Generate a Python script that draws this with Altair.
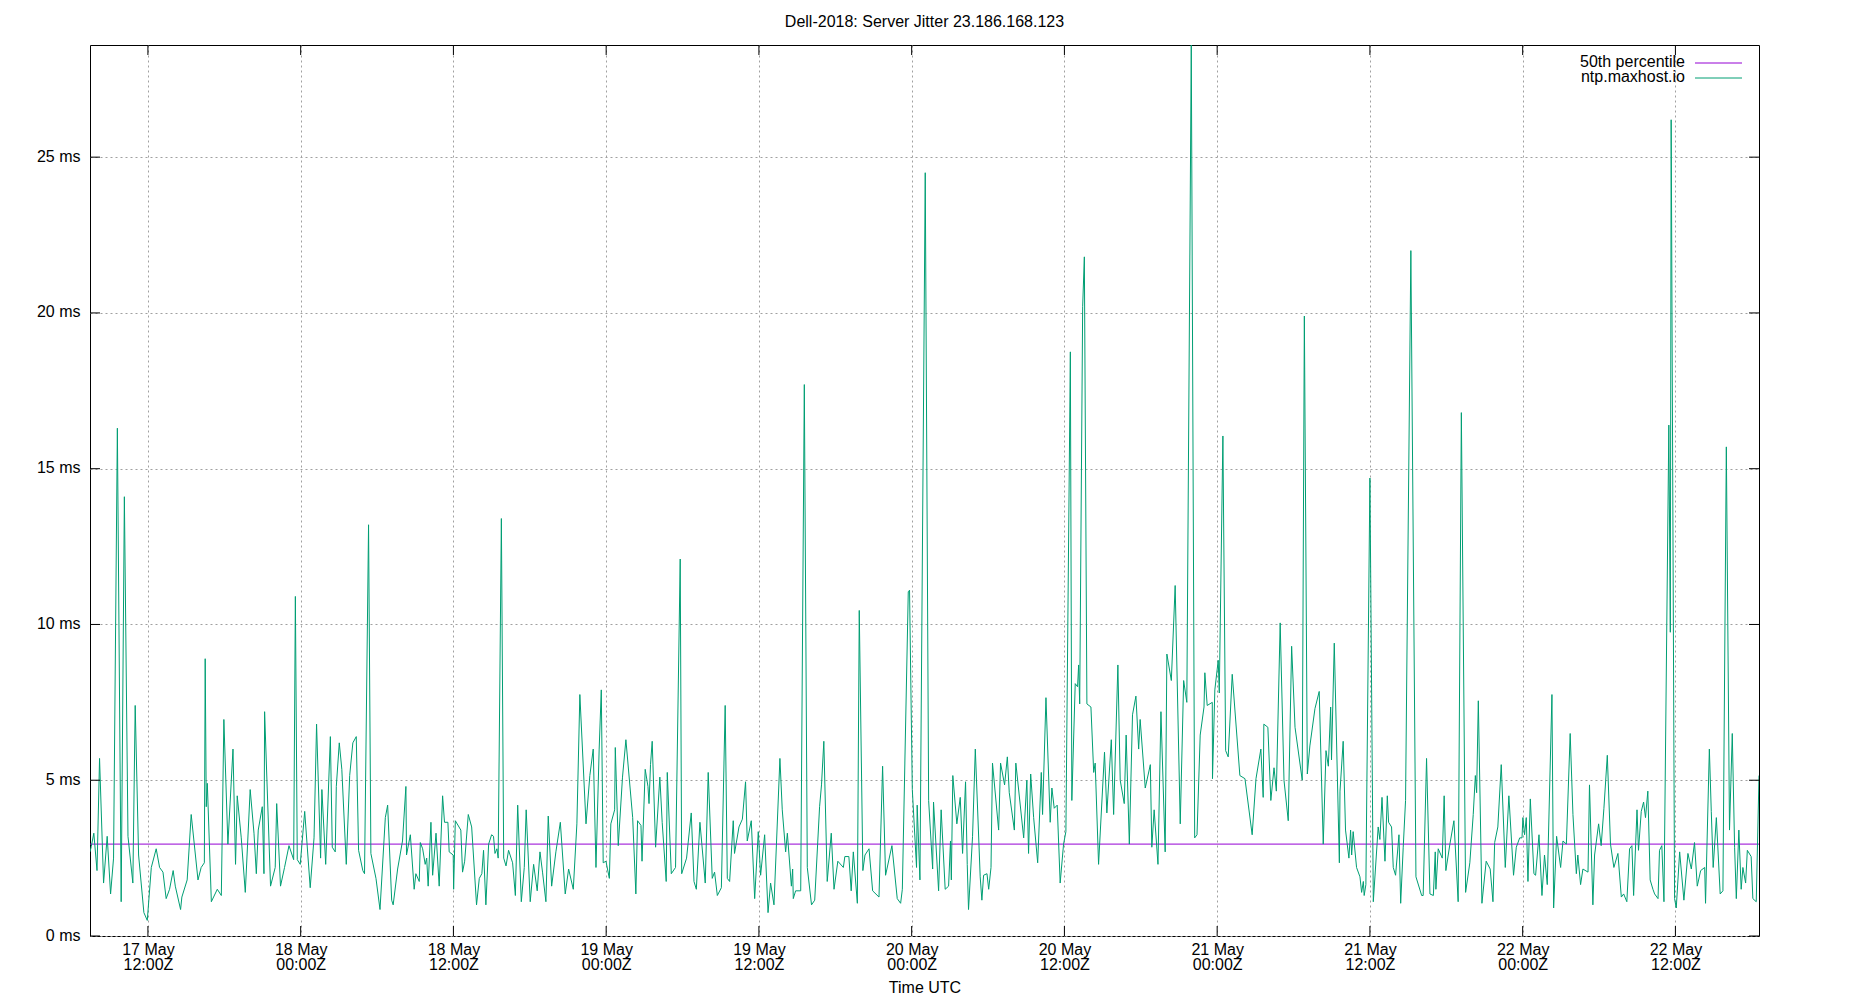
import altair as alt
import pandas as pd

FONT = "Liberation Sans"
FS = 16

title_text = "Dell-2018: Server Jitter 23.186.168.123"
x_title = "Time UTC"
series_names = ["50th percentile", "ntp.maxhost.io"]
series_colors = ["#9400d3", "#009e73"]

base_time = "2024-05-17T00:00:00Z"

# minutes after base_time
minutes = [
    447, 453, 465, 480, 492, 511, 528, 544, 558, 576, 594, 609, 626, 649, 660, 676,
    701, 717, 736, 759, 775, 791, 806, 822, 839, 849, 874, 880, 905, 924, 956, 971,
    986, 990, 995, 1000, 1019, 1047, 1066, 1078, 1097, 1121, 1133, 1141, 1160, 1179,
    1202, 1220, 1231, 1240, 1259, 1267, 1270, 1298, 1320, 1327, 1345, 1364, 1385,
    1407, 1415, 1424, 1438, 1459, 1485, 1503, 1515, 1534, 1540, 1558, 1580, 1589,
    1603, 1608, 1622, 1634, 1655, 1671, 1686, 1702, 1713, 1733, 1741, 1760,
    1771, 1795, 1814, 1839, 1850, 1869, 1876, 1897, 1920, 1936, 1939, 1957, 1975,
    1983, 1999, 2004, 2015, 2027, 2034, 2041, 2054, 2062, 2078, 2093, 2109, 2118,
    2134, 2140, 2159, 2161, 2169, 2195, 2203, 2213, 2230, 2246, 2269, 2282, 2294,
    2302, 2313, 2326, 2340, 2349, 2356, 2365, 2371, 2386, 2397, 2408, 2420, 2439,
    2452, 2463, 2480, 2494, 2503, 2522, 2538, 2555, 2568, 2580, 2596, 2607, 2623,
    2643, 2664, 2687, 2703, 2725, 2742, 2756, 2785, 2803, 2819, 2832, 2847, 2857,
    2866, 2879, 2895, 2902, 2920, 2923, 2937, 2957, 2973, 3005, 3020, 3028, 3044,
    3049, 3064, 3077,
    3082, 3089, 3097, 3113, 3133, 3144, 3163, 3168, 3187, 3207, 3229, 3236, 3259,
    3281, 3294, 3305, 3322, 3347, 3361, 3380, 3391, 3404, 3423, 3441, 3451, 3462,
    3479, 3485, 3506, 3522, 3537, 3545, 3564, 3580, 3597, 3608, 3627, 3643, 3655,
    3671, 3699, 3710, 3726, 3734, 3753, 3759, 3762, 3773, 3797, 3814, 3828, 3848,
    3863, 3886, 3895, 3906, 3922, 3941, 3954, 3972, 3998, 4005, 4024, 4035, 4045,
    4064, 4073, 4090, 4100, 4119, 4136, 4166, 4183, 4197, 4227, 4252, 4268, 4276,
    4304, 4310, 4323, 4343, 4346, 4359, 4384,
    4400, 4419, 4423, 4447, 4459, 4478, 4494, 4503, 4507, 4514, 4533, 4549, 4560,
    4574, 4582, 4588, 4607, 4620, 4643, 4651, 4659, 4675, 4683, 4694, 4701, 4730,
    4739, 4758, 4771, 4780, 4804, 4811, 4848, 4863, 4871, 4881, 4895, 4914, 4931,
    4937, 4953, 4973, 4981, 4992, 5006, 5020, 5036, 5047, 5068, 5075, 5091, 5102,
    5107, 5112, 5126, 5134, 5146, 5165, 5178, 5185, 5201, 5229, 5240, 5261, 5272,
    5292, 5303, 5322, 5331, 5346, 5361, 5377, 5390, 5397, 5421, 5445, 5452, 5463,
    5481, 5495, 5515, 5523, 5544, 5562, 5586, 5602, 5617, 5638, 5654, 5665, 5680,
    5698,
    5702, 5713, 5737, 5738, 5749, 5765, 5770, 5787, 5800, 5812, 5831, 5867, 5891,
    5925, 5943, 5966, 5977, 5980, 5999, 6013, 6028, 6039, 6057, 6075, 6095, 6111,
    6127, 6161, 6171, 6185, 6197, 6221, 6241, 6260, 6273, 6284, 6295, 6299, 6312,
    6336, 6339, 6354, 6365, 6381, 6389, 6394, 6401, 6417, 6433, 6441, 6449, 6453,
    6461, 6480, 6496, 6519, 6527, 6537, 6551, 6562, 6568, 6582, 6590, 6601, 6617,
    6625, 6637, 6648, 6673, 6697, 6724, 6731, 6747, 6763, 6779, 6788, 6791, 6802,
    6821, 6830, 6838, 6857, 6876, 6896, 6911, 6931, 6951, 6967, 6977, 6983, 6991,
    7008,
    7028, 7047, 7060, 7068, 7083, 7099, 7118, 7135, 7157, 7170, 7186, 7197, 7201,
    7209, 7217, 7225, 7236, 7253, 7261, 7277, 7291, 7303, 7316, 7338, 7346, 7360,
    7379, 7390, 7406, 7424, 7437, 7453, 7460, 7473, 7484, 7508, 7515, 7531, 7539,
    7558, 7570, 7583, 7599, 7614, 7630, 7649, 7665, 7676, 7691, 7704, 7715, 7723,
    7739, 7746, 7759, 7770, 7779, 7790, 7801, 7814, 7822, 7838, 7845, 7856, 7866,
    7889, 7896, 7900, 7916, 7924, 7940, 7960, 7979, 7995, 8010, 8023, 8039, 8058,
    8062, 8080, 8089, 8098, 8113, 8131, 8144, 8160, 8175, 8188, 8199, 8207, 8219,
    8230, 8238, 8251, 8259, 8277, 8285, 8301, 8314,
]

jitter_ms = [
    2.7, 2.87, 3.3, 2.1, 5.7, 1.7, 3.2, 1.35, 2.5, 16.3, 1.1, 14.1, 3.2, 1.7, 7.4, 2.6,
    0.75, 0.5, 2.2, 2.8, 2.2, 2.05, 1.2, 1.5, 2.1, 1.6, 0.85, 1.25, 1.8, 3.9, 1.8, 2.2,
    2.35, 8.9, 4.15, 4.9, 1.1, 1.5, 1.3, 6.95, 2.95, 6.0, 2.3, 4.5, 3.15, 1.4,
    4.7, 3.3, 2.0, 3.4, 4.15, 2.0, 7.2, 1.6, 2.2, 4.25, 1.6, 2.2, 2.9,
    2.45, 10.9, 2.45, 2.3, 4.0, 1.55, 3.15, 6.8, 2.5, 4.7, 2.3, 6.4, 2.85,
    2.7, 4.8, 6.2, 5.35, 2.3, 5.15, 6.2, 6.4, 2.75, 2.1, 2.0, 13.2,
    2.65, 1.85, 0.85, 3.8, 4.2, 1.15, 1.0, 2.15, 3.05, 4.8, 2.6, 3.25, 1.5,
    2.0, 1.75, 3.0, 2.8, 2.3, 2.5, 1.6, 3.65, 1.95, 3.3, 1.6, 4.5, 3.65,
    3.65, 2.7, 2.6, 1.5, 3.7, 3.4, 2.05, 2.4, 3.9, 3.5, 1.0, 1.85, 2.0,
    2.75, 1.0, 2.95, 3.25, 3.2, 2.65, 2.8, 2.5, 13.4, 2.5, 2.25, 2.75, 2.35,
    1.3, 4.2, 1.1, 2.2, 4.05, 1.1, 2.3, 1.45, 2.7, 2.05, 1.1, 3.85, 1.6,
    2.7, 3.65, 1.35, 2.15, 1.5, 3.6, 7.75, 3.6, 5.15, 6.0, 2.2, 6.0, 7.9,
    2.35, 2.4, 1.85, 3.6, 4.05, 6.05, 2.9, 5.1, 6.3, 3.8, 1.35, 3.7, 3.55,
    2.4, 5.35, 4.8,
    4.25, 5.5, 6.25, 2.85, 5.1, 3.65, 1.75, 5.25, 2.0, 2.2, 12.1, 2.0, 2.5,
    3.95, 1.75, 1.5, 3.65, 1.7, 5.25, 1.85, 2.05, 1.3, 1.55, 7.4, 1.85, 1.75,
    3.7, 2.65, 3.5, 3.75, 4.95, 3.05, 3.7, 1.2, 3.35, 1.95, 3.25, 0.75, 1.7,
    1.0, 5.7, 4.05, 2.7, 3.3, 1.6, 2.15, 1.2, 1.45, 1.45, 17.7, 2.2, 1.0,
    1.15, 4.15, 4.85, 6.25, 1.75, 3.3, 1.5, 2.4, 2.2, 2.55, 2.55, 1.45, 2.7,
    1.05, 10.45, 2.1, 2.6, 2.8, 1.45, 1.25, 5.45, 1.95, 2.9, 1.2, 1.05, 1.5,
    11.05, 11.1, 4.7, 2.2, 4.2, 1.8, 24.5,
    4.35, 2.15, 4.3, 1.45, 4.05, 1.5, 1.6, 3.05, 1.8, 5.15, 3.6, 4.45, 2.65,
    4.95, 2.3, 0.85, 3.2, 6.0, 1.9, 1.15, 1.95, 2.0, 1.5, 2.2, 5.55, 3.4,
    5.55, 4.85, 5.75, 4.6, 3.4, 5.55, 3.15, 5.0, 2.65, 5.2, 3.8, 2.35, 5.25,
    3.9, 7.65, 3.65, 4.75, 4.1, 4.2, 1.7, 2.95, 3.35, 18.75, 4.35, 8.1, 8.0,
    8.7, 7.45, 20.2, 21.8, 7.45, 7.35, 5.25, 5.55, 2.3, 5.9, 3.95, 6.3, 3.9,
    8.7, 5.0, 4.25, 6.45, 2.95, 7.1, 7.7, 6.0, 6.95, 4.75, 5.5, 2.85, 4.05,
    2.3, 7.2, 2.7, 9.05, 8.2, 11.25, 3.6, 8.2, 7.5, 28.6, 3.15, 3.25, 6.45,
    7.35,
    8.45, 7.4, 7.5, 5.05, 7.9, 8.85, 7.8, 16.05, 5.95, 5.75, 8.4, 5.15, 5.05,
    3.25, 5.05, 6.0, 4.45, 6.8, 6.7, 4.35, 5.4, 4.65, 10.05, 5.0, 3.7, 9.3,
    6.7, 5.0, 19.9, 5.2, 6.1, 7.3, 7.85, 2.95, 5.95, 5.45, 7.35, 5.65, 9.4,
    2.35, 4.65, 6.25, 3.4, 2.5, 3.4, 2.6, 3.35, 2.2, 1.9, 1.4, 1.75, 1.3,
    1.65, 14.7, 1.1, 3.5, 3.1, 4.45, 2.4, 4.5, 3.65, 3.5, 2.2, 1.95, 3.25,
    1.05, 2.85, 4.35, 22.0, 1.9, 1.3, 1.3, 5.7, 1.35, 1.3, 2.7, 1.5, 2.8,
    2.5, 4.5, 2.1, 2.95, 3.7, 1.1, 16.8, 1.4, 2.35, 3.9, 5.15, 4.6, 7.55,
    1.05,
    2.4, 2.15, 1.1, 3.0, 3.5, 5.5, 2.2, 4.5, 1.95, 2.85, 3.15, 3.15, 3.8,
    3.25, 3.8, 1.75, 4.4, 2.0, 1.95, 3.25, 1.3, 2.6, 1.65, 7.75, 0.9, 3.2,
    2.2, 3.05, 2.95, 6.5, 3.9, 2.0, 2.6, 1.65, 2.15, 2.05, 4.85, 1.0, 2.6,
    3.6, 2.9, 4.1, 5.8, 2.95, 2.2, 2.65, 1.25, 1.35, 1.1, 2.8, 2.9, 1.3,
    4.05, 2.75, 4.0, 4.3, 3.8, 4.65, 1.8, 1.5, 1.35, 1.2, 2.75, 2.9, 1.1,
    16.4, 9.75, 26.2, 1.2, 0.9, 2.7, 1.15, 2.65, 2.15, 3.0, 1.6, 2.1, 2.2,
    1.05, 6.0, 4.0, 2.2, 3.8, 1.35, 1.45, 15.7, 3.4, 6.5, 2.85, 1.2, 3.4,
    1.5, 2.2, 1.7, 2.75, 2.55, 1.2, 1.1, 5.15,
]

median_ms = [2.95]

tick_times = [
    "2024-05-17T12:00:00Z", "2024-05-18T00:00:00Z", "2024-05-18T12:00:00Z",
    "2024-05-19T00:00:00Z", "2024-05-19T12:00:00Z", "2024-05-20T00:00:00Z",
    "2024-05-20T12:00:00Z", "2024-05-21T00:00:00Z", "2024-05-21T12:00:00Z",
    "2024-05-22T00:00:00Z", "2024-05-22T12:00:00Z",
]
y_ticks = [0, 5, 10, 15, 20, 25]

# ---------------------------------------------------------------------------
base_ms = pd.Timestamp(base_time).value // 10**6
df = pd.DataFrame({
    "t": [base_ms + m * 60000 for m in minutes],
    "v": jitter_ms,
})
tick_ms = [pd.Timestamp(s).value // 10**6 for s in tick_times]
ticks_df = pd.DataFrame({"t": tick_ms})
yticks_df = pd.DataFrame({"v": y_ticks})
median_df = pd.DataFrame({"v": median_ms})

W, H = 1669, 891
TL = 10  # tick length
GRID = "#a0a0a0"

xscale = alt.Scale(type="utc", domain=[int(df["t"].min()), int(df["t"].max())])
yscale = alt.Scale(domain=[0, float(max(jitter_ms))], nice=False, zero=True)

x_axis = alt.Axis(
    values=tick_ms, grid=True, gridDash=[2, 3], gridColor=GRID, gridWidth=1,
    ticks=False, domain=False,
    labelExpr="[utcFormat(datum.value, '%d %b'), utcFormat(datum.value, '%H:%MZ')]",
    labelFont=FONT, labelFontSize=FS, labelColor="black", labelPadding=5,
    labelLineHeight=15, labelAngle=0, labelFlush=False, labelOverlap=False,
    title=x_title, titleFont=FONT, titleFontSize=FS, titleFontWeight="normal",
    titleColor="black", titlePadding=7,
)
y_axis = alt.Axis(
    values=y_ticks, grid=True, gridDash=[2, 3], gridColor=GRID, gridWidth=1,
    ticks=False, domain=False, labelExpr="datum.value + ' ms'",
    labelFont=FONT, labelFontSize=FS, labelColor="black", labelPadding=10,
    labelFlush=False, labelOverlap=False, labelBaseline="middle", labelOffset=-1,
    title="",
)

X = alt.X("t:T", scale=xscale, axis=x_axis)
Y = alt.Y("v:Q", scale=yscale, axis=y_axis)

median_rule = alt.Chart(median_df).mark_rule(
    color=series_colors[0], strokeWidth=1
).encode(y=Y)

line = alt.Chart(df).mark_line(
    color=series_colors[1], strokeWidth=1, clip=True
).encode(x=X, y=Y)

xt_bottom = alt.Chart(ticks_df).mark_rule(color="black", strokeWidth=1).encode(
    x=X, y=alt.value(H - TL), y2=alt.value(H))
xt_top = alt.Chart(ticks_df).mark_rule(color="black", strokeWidth=1).encode(
    x=X, y=alt.value(0), y2=alt.value(TL))
yt_left = alt.Chart(yticks_df).mark_rule(color="black", strokeWidth=1).encode(
    y=Y, x=alt.value(0), x2=alt.value(TL))
yt_right = alt.Chart(yticks_df).mark_rule(color="black", strokeWidth=1).encode(
    y=Y, x=alt.value(W - TL), x2=alt.value(W))

legend_layers = []
for i, (name, col) in enumerate(zip(series_names, series_colors)):
    ldf = pd.DataFrame({"label": [name]})
    legend_layers.append(
        alt.Chart(ldf).mark_text(
            font=FONT, fontSize=FS, color="black", align="right", baseline="middle"
        ).encode(text="label:N", x=alt.value(1595), y=alt.value(17 + 15 * i))
    )
    legend_layers.append(
        alt.Chart(ldf).mark_rule(color=col, strokeWidth=1).encode(
            x=alt.value(1605), x2=alt.value(1652), y=alt.value(18 + 15 * i))
    )

chart = alt.layer(
    median_rule, line, xt_bottom, xt_top, yt_left, yt_right, *legend_layers
).properties(
    width=W, height=H,
    title=alt.TitleParams(
        text=title_text, font=FONT, fontSize=FS, fontWeight="normal",
        color="black", anchor="middle", offset=15,
    ),
    autosize=alt.AutoSizeParams(type="none"),
    padding={"left": 82, "top": 37, "right": 83, "bottom": 62},
).configure(
    background="white",
    view=alt.ViewConfig(stroke="black", strokeWidth=1),
)

chart.save("out.html", embed_options={"renderer": "svg", "actions": False})
